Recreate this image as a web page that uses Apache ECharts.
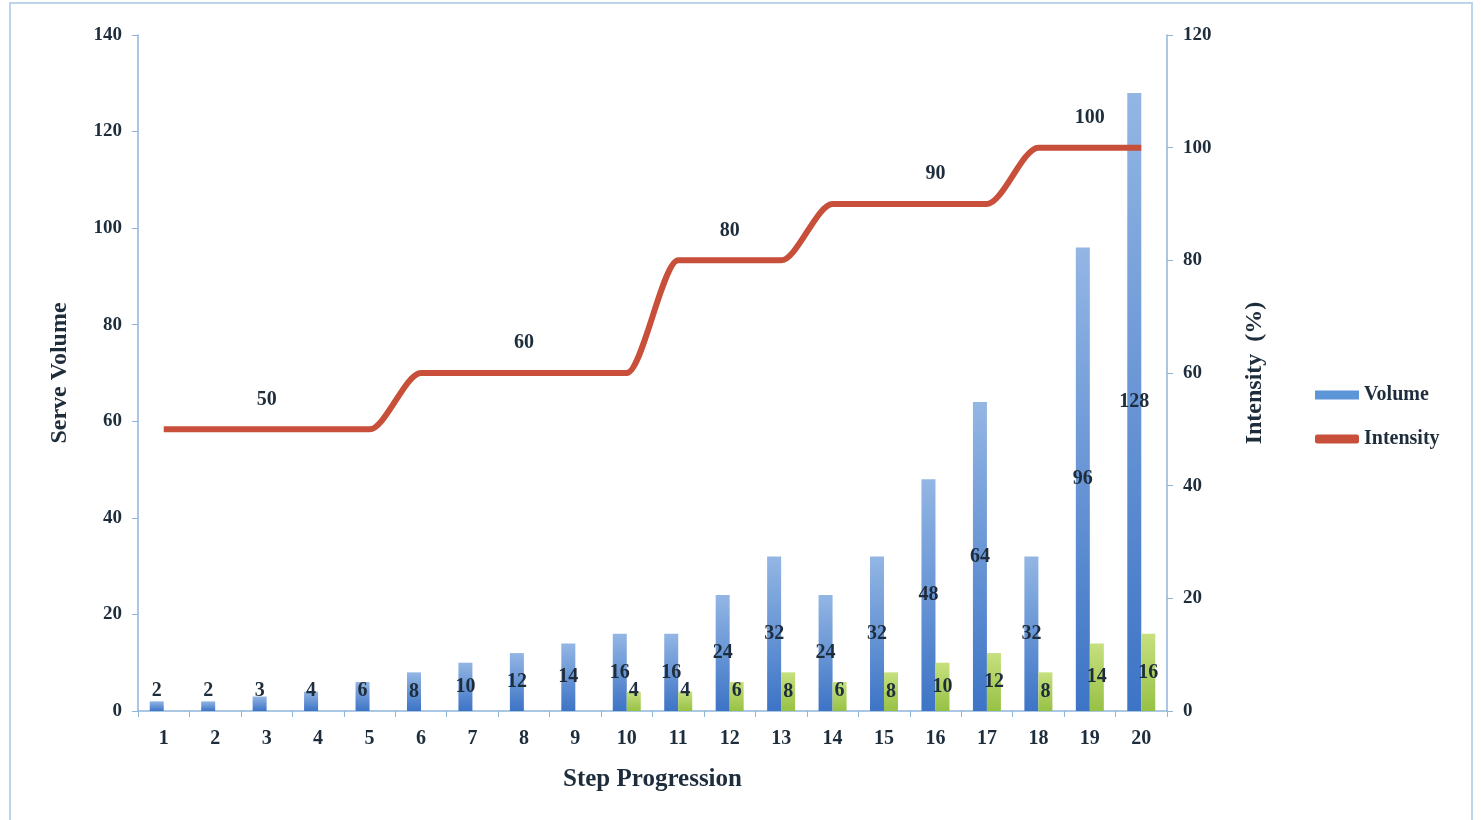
<!DOCTYPE html>
<html>
<head>
    <meta charset="utf-8">
    <title>Step Progression</title>
    <script src="https://cdn.jsdelivr.net/npm/echarts@6/dist/echarts.min.js"></script>
    <style>
        body { margin: 0; padding: 0; background: #fff; }
    </style>
</head>
<body>
<div id="main" style="width: 1481px;height:820px;"></div>

<script type="text/javascript">
    // data
    let steps = ['1', '2', '3', '4', '5', '6', '7', '8', '9', '10',
                 '11', '12', '13', '14', '15', '16', '17', '18', '19', '20']
    let volume = [2, 2, 3, 4, 6, 8, 10, 12, 14, 16, 16, 24, 32, 24, 32, 48, 64, 32, 96, 128]
    let secondVolume = [null, null, null, null, null, null, null, null, null, 4,
                        4, 6, 8, 6, 8, 10, 12, 8, 14, 16]
    let intensity = [50, 50, 50, 50, 50, 60, 60, 60, 60, 60, 80, 80, 80, 90, 90, 90, 90, 100, 100, 100]
    // steps where the intensity value is written
    let intensityLabelSteps = ['3', '8', '12', '16', '19']

    let serif = '"Liberation Serif", "DejaVu Serif", serif'
    let textColor = '#1e2d3c'
    let axisColor = '#8fb5da'

    // small bars get their label pushed up a bit, like the original
    function barItems(list) {
        return list.map((v) => {
            if (v === null) return null
            if (v < 8) {
                return { value: v, label: { position: 'insideBottom', distance: 10 } }
            }
            return v
        })
    }

    let myChart = echarts.init(document.getElementById('main'));
    let option = {
        animation: false,
        textStyle: { fontFamily: serif },
        graphic: [{
            type: 'rect',
            shape: { x: 10, y: 3, width: 1462, height: 840 },
            style: { fill: null, stroke: '#bcd5ec', lineWidth: 2 },
            silent: true,
            z: -1
        }],
        grid: { left: 138, right: 314, top: 35, bottom: 109 },
        legend: {
            orient: 'vertical',
            left: 1310,
            top: 380,
            itemWidth: 44,
            itemHeight: 9,
            itemGap: 24,
            textStyle: { fontFamily: serif, fontSize: 20, fontWeight: 'bold', color: textColor },
            data: [
                { name: 'Volume', icon: 'rect', itemStyle: { color: '#5d95d9' } },
                { name: 'Intensity', icon: 'roundRect', itemStyle: { color: '#c8503a' } }
            ]
        },
        xAxis: {
            type: 'category',
            data: steps,
            name: 'Step Progression',
            nameLocation: 'middle',
            nameGap: 56,
            nameTextStyle: { fontFamily: serif, fontSize: 25, fontWeight: 'bold', color: textColor },
            axisLine: { lineStyle: { color: axisColor, width: 1.5 } },
            axisTick: { show: true, alignWithLabel: false, length: 6, lineStyle: { color: axisColor } },
            axisLabel: { fontSize: 20, fontWeight: 'bold', color: textColor, margin: 18 }
        },
        yAxis: [
            {
                type: 'value',
                min: 0,
                max: 140,
                interval: 20,
                name: 'Serve Volume',
                nameLocation: 'middle',
                nameGap: 66,
                nameTextStyle: { fontFamily: serif, fontSize: 24, fontWeight: 'bold', color: textColor },
                axisLine: { show: true, lineStyle: { color: axisColor, width: 1.5 } },
                axisTick: { show: true, length: 6, lineStyle: { color: axisColor } },
                splitLine: { show: false },
                axisLabel: { fontSize: 19, fontWeight: 'bold', color: textColor, margin: 16 }
            },
            {
                type: 'value',
                min: 0,
                max: 120,
                interval: 20,
                name: 'Intensity  (%)',
                nameLocation: 'middle',
                nameGap: 76,
                nameTextStyle: { fontFamily: serif, fontSize: 24, fontWeight: 'bold', color: textColor },
                axisLine: { show: true, lineStyle: { color: axisColor, width: 1.5 } },
                axisTick: { show: true, length: 6, lineStyle: { color: axisColor } },
                splitLine: { show: false },
                axisLabel: { fontSize: 19, fontWeight: 'bold', color: textColor, margin: 16 }
            }
        ],
        series: [
            {
                name: 'Volume',
                type: 'bar',
                data: barItems(volume),
                barWidth: 14,
                barGap: '0%',
                itemStyle: {
                    color: new echarts.graphic.LinearGradient(0, 0, 0, 1, [
                        { offset: 0, color: '#93b6e4' },
                        { offset: 1, color: '#3d74c6' }
                    ])
                },
                label: {
                    show: true,
                    position: 'inside',
                    fontSize: 20,
                    fontWeight: 'bold',
                    color: textColor
                }
            },
            {
                name: 'Volume 2',
                type: 'bar',
                data: barItems(secondVolume),
                barWidth: 14,
                barGap: '0%',
                itemStyle: {
                    color: new echarts.graphic.LinearGradient(0, 0, 0, 1, [
                        { offset: 0, color: '#c6e07e' },
                        { offset: 1, color: '#97c145' }
                    ])
                },
                label: {
                    show: true,
                    position: 'inside',
                    fontSize: 20,
                    fontWeight: 'bold',
                    color: textColor
                }
            },
            {
                name: 'Intensity',
                type: 'line',
                yAxisIndex: 1,
                data: intensity.map((v, i) => ({
                    value: v,
                    label: { show: intensityLabelSteps.includes(steps[i]) }
                })),
                smooth: 0.3,
                smoothMonotone: 'x',
                showSymbol: true,
                symbol: 'circle',
                symbolSize: 0,
                lineStyle: { width: 6, color: '#c8503a' },
                itemStyle: { color: '#c8503a' },
                label: {
                    position: 'top',
                    distance: 20,
                    fontSize: 20,
                    fontWeight: 'bold',
                    color: textColor
                },
                z: 3
            }
        ]
    };
    myChart.setOption(option);
</script>
</body>
</html>
